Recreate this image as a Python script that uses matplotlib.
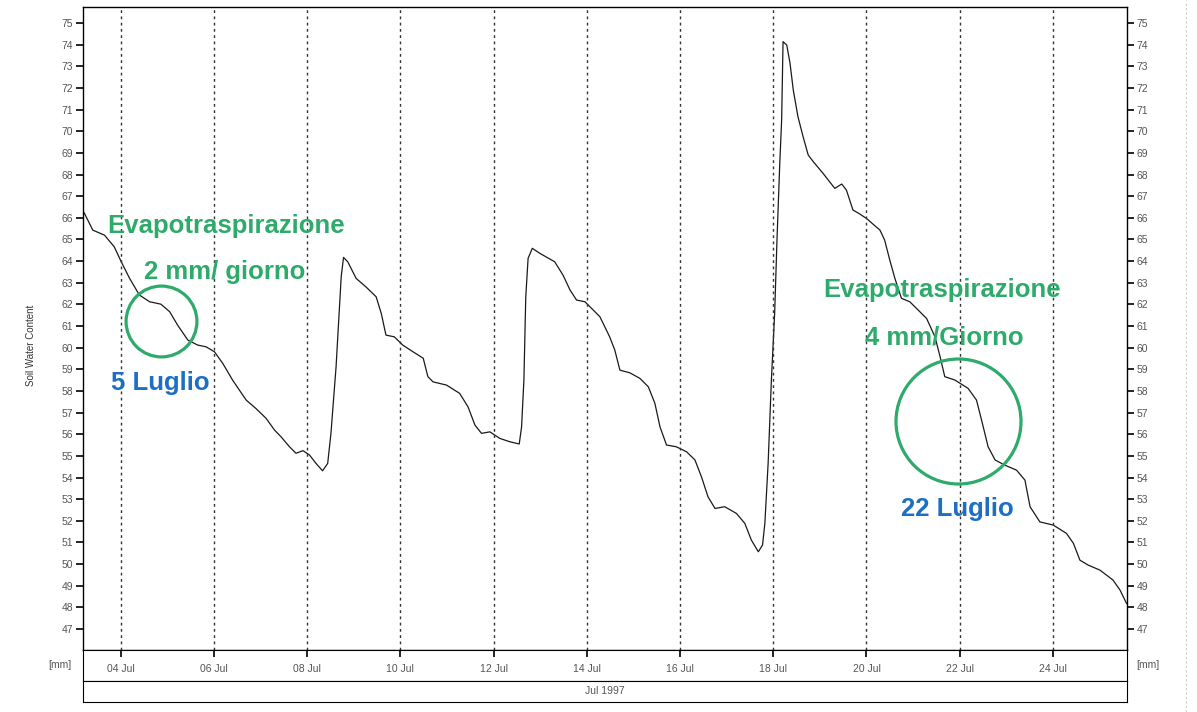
import numpy as np
from matplotlib import pyplot as plt
from matplotlib.lines import Line2D

# giorno di luglio (frazionario) e contenuto idrico del suolo [mm]
days = [3.19, 3.22, 3.40, 3.65, 3.86, 4.01, 4.19, 4.40, 4.62, 4.86, 5.05, 5.22, 5.44,
        5.65, 5.83, 6.01, 6.19, 6.40, 6.69, 6.90, 7.12, 7.30, 7.44, 7.62, 7.76, 7.91,
        8.05, 8.19, 8.33, 8.44, 8.51, 8.62, 8.73, 8.78, 8.87, 9.05, 9.26, 9.48, 9.59,
        9.69, 9.87, 10.05, 10.27, 10.49, 10.59, 10.70, 10.99, 11.27, 11.45, 11.60,
        11.74, 11.92, 12.13, 12.35, 12.55, 12.60, 12.65, 12.69, 12.74, 12.83, 12.99,
        13.31, 13.49, 13.64, 13.78, 13.96, 14.10, 14.28, 14.49, 14.60, 14.71, 14.92,
        15.14, 15.32, 15.46, 15.57, 15.71, 15.92, 16.14, 16.32, 16.46, 16.60, 16.75,
        16.96, 17.21, 17.39, 17.53, 17.68, 17.77, 17.82, 17.89, 17.96, 18.03, 18.08,
        18.14, 18.18, 18.21, 18.29, 18.36, 18.43, 18.53, 18.64, 18.75, 18.86, 19.07,
        19.32, 19.47, 19.57, 19.71, 19.86, 20.00, 20.29, 20.39, 20.50, 20.61, 20.75,
        20.93, 21.00, 21.29, 21.47, 21.58, 21.68, 21.90, 22.18, 22.36, 22.47, 22.61,
        22.76, 22.97, 23.22, 23.40, 23.51, 23.72, 24.01, 24.29, 24.44, 24.58, 24.76,
        25.01, 25.29, 25.44, 25.58]
swc = [66.30, 66.21, 65.43, 65.20, 64.66, 63.97, 63.20, 62.43, 62.12, 62.01, 61.66,
       61.04, 60.35, 60.12, 60.04, 59.81, 59.27, 58.50, 57.58, 57.19, 56.73, 56.19,
       55.88, 55.42, 55.12, 55.24, 55.04, 54.65, 54.31, 54.65, 56.04, 59.12, 63.28,
       64.17, 63.97, 63.20, 62.81, 62.35, 61.58, 60.58, 60.50, 60.12, 59.81, 59.51,
       58.66, 58.42, 58.27, 57.89, 57.27, 56.42, 56.04, 56.11, 55.81, 55.65, 55.55,
       56.34, 58.50, 62.35, 64.13, 64.59, 64.36, 63.97, 63.35, 62.66, 62.20, 62.12,
       61.82, 61.43, 60.50, 59.89, 58.96, 58.84, 58.58, 58.19, 57.43, 56.34, 55.50,
       55.42, 55.19, 54.81, 54.03, 53.11, 52.57, 52.65, 52.34, 51.88, 51.11, 50.57,
       50.88, 51.88, 54.65, 58.50, 61.58, 64.97, 68.52, 70.52, 74.14, 73.98, 73.14,
       71.90, 70.67, 69.75, 68.90, 68.59, 68.05, 67.36, 67.56, 67.28, 66.36, 66.17,
       65.97, 65.43, 64.97, 64.05, 63.20, 62.28, 62.12, 61.97, 61.35, 60.50, 59.58,
       58.66, 58.50, 58.12, 57.58, 56.65, 55.42, 54.81, 54.57, 54.34, 53.88, 52.65,
       51.95, 51.80, 51.42, 50.96, 50.18, 49.95, 49.72, 49.26, 48.80, 48.18]

tick_days = [4, 6, 8, 10, 12, 14, 16, 18, 20, 22, 24]
tick_labels = ['%02d Jul' % d for d in tick_days]
y_ticks = list(range(47, 76))

# annotazioni: (testo, giorno, valore, colore)
notes = [
    ('Evapotraspirazione', 6.27, 65.62, 'green'),
    ('2 mm/ giorno', 6.23, 63.49, 'green'),
    ('5 Luglio', 4.84, 58.36, 'blue'),
    ('Evapotraspirazione', 21.62, 62.66, 'green'),
    ('4 mm/Giorno', 21.68, 60.49, 'green'),
    ('22 Luglio', 21.96, 52.54, 'blue'),
]
circles = [(4.86, 61.23, 51), (21.96, 56.61, 90)]  # giorno, valore, diametro (pt)

colors = {'green': '#2eaa6b', 'blue': '#1c6fc2'}
xlim = (3.19, 25.59)
ylim = (46.03, 75.74)

plt.rcParams['font.family'] = ['Liberation Sans', 'DejaVu Sans']

fig = plt.figure(figsize=(11.97, 7.12), dpi=100)
W, H = 1197, 712
x0, x1 = 83 / W, 1127 / W

ax = fig.add_axes([x0, 1 - 650 / H, x1 - x0, 643 / H])
ax.plot(days, swc, color='#1a1a1a', lw=0.9)
ax.set_xlim(*xlim)
ax.set_ylim(*ylim)
for d in tick_days:
    ax.axvline(d, color='#333333', lw=1.0, linestyle=(0, (2, 2.5)))
ax.set_xticks([])
ax.set_yticks(y_ticks)
ax.tick_params(axis='y', which='both', direction='out', length=5, width=1.2,
               labelsize=7.5, labelcolor='#555555', left=True, right=True,
               labelleft=True, labelright=True, pad=2)
for s in ax.spines.values():
    s.set_linewidth(1.0)

for txt, d, v, c in notes:
    ax.text(d, v, txt, color=colors[c], fontsize=18.5, fontweight='bold',
            ha='center', va='center')
for d, v, size in circles:
    ax.plot([d], [v], marker='o', markersize=size, markerfacecolor='none',
            markeredgecolor=colors['green'], markeredgewidth=2.3)

# fascia con le date
band = fig.add_axes([x0, 1 - 681 / H, x1 - x0, 31 / H])
band.set_xlim(*xlim)
band.set_ylim(0, 1)
band.set_yticks([])
band.set_xticks(tick_days)
band.tick_params(axis='x', top=True, bottom=False, direction='in', length=5,
                 width=1.2, labelbottom=False)
for d, lab in zip(tick_days, tick_labels):
    band.text(d, 0.38, lab, fontsize=7.5, color='#555555', ha='center', va='center')

band2 = fig.add_axes([x0, 1 - 702 / H, x1 - x0, 21 / H])
band2.set_xticks([])
band2.set_yticks([])
band2.text(0.5, 0.5, 'Jul 1997', fontsize=7.5, color='#555555',
           ha='center', va='center', transform=band2.transAxes)

fig.text(60 / W, 1 - 665 / H, '[mm]', fontsize=7.5, color='#555555', ha='center', va='center')
fig.text(1148 / W, 1 - 665 / H, '[mm]', fontsize=7.5, color='#555555', ha='center', va='center')
fig.text(31 / W, 1 - 345 / H, 'Soil Water Content', fontsize=7, color='#333333',
         rotation=90, ha='center', va='center')
fig.add_artist(Line2D([1186 / W, 1186 / W], [0, 1], color='#cccccc', lw=0.8,
                      linestyle=(0, (2, 2))))

fig.savefig('out.png', dpi=100)
